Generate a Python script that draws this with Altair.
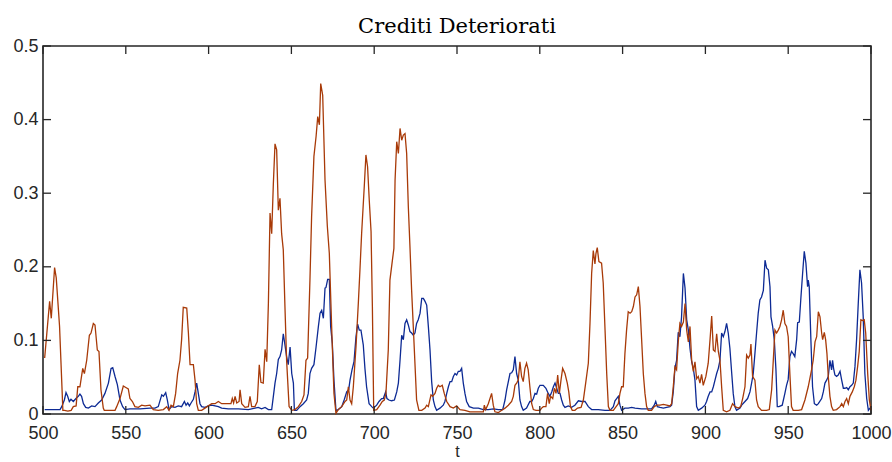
import altair as alt
import pandas as pd

TITLE = "Crediti Deteriorati"
X_LABEL = "t"
X_TICKS = [500, 550, 600, 650, 700, 750, 800, 850, 900, 950, 1000]
Y_TICKS = [0, 0.1, 0.2, 0.3, 0.4, 0.5]

BLUE = [(501,0.006),(505,0.006),(510.3,0.006),(511.3,0.010),(512.9,0.019),(513.9,0.029),(514.9,0.024),(515.9,0.017),(516.9,0.020),(518.3,0.017),(519.9,0.021),(521.3,0.024),(522.3,0.027),(523.3,0.024),(524.4,0.014),(525.8,0.009),(527.4,0.008),(529.4,0.011),(531.4,0.010),(533.4,0.015),(535.4,0.019),(537.4,0.028),(539.5,0.042),(541.1,0.062),(542.1,0.063),(543.5,0.051),(544.9,0.040),(546.5,0.019),(548.1,0.010),(549.5,0.006),(552.5,0.007),(558.6,0.007),(564.6,0.008),(567.6,0.008),(569.6,0.010),(571.7,0.026),(572.7,0.024),(574.1,0.029),(575.1,0.019),(576.1,0.006),(577.7,0.010),(579.7,0.009),(581.7,0.011),(583.7,0.010),(585.4,0.017),(586.4,0.012),(587.4,0.015),(588.4,0.011),(589.4,0.015),(590.8,0.020),(591.8,0.030),(592.8,0.042),(593.8,0.028),(594.8,0.014),(595.8,0.010),(597.8,0.009),(599.8,0.011),(601.9,0.012),(603.9,0.011),(605.9,0.010),(607.9,0.008),(611.9,0.007),(618,0.007),(624,0.006),(628,0.008),(630,0.009),(632,0.007),(634.1,0.009),(636.1,0.006),(638.1,0.006),(639.1,0.024),(640.1,0.042),(641.1,0.055),(642.1,0.074),(643.1,0.078),(644.1,0.087),(645.1,0.109),(646.1,0.094),(647.1,0.078),(648.1,0.067),(649.2,0.091),(650.2,0.055),(651.2,0.042),(651.8,0.005),(653.2,0.005),(655.2,0.010),(657.2,0.014),(659.2,0.019),(660.2,0.028),(661.2,0.055),(662.2,0.062),(663.6,0.067),(664.9,0.091),(666.3,0.119),(667.3,0.137),(668.3,0.141),(669.3,0.130),(670.3,0.171),(670.9,0.172),(671.9,0.183),(672.9,0.183),(673.7,0.119),(674.7,0.096),(675.7,0.046),(676.9,0.005),(678.3,0.006),(680.4,0.010),(682,0.020),(683.4,0.030),(684.6,0.033),(685.4,0.046),(686.6,0.060),(687.8,0.071),(689,0.105),(690,0.122),(691,0.114),(692,0.114),(693.4,0.094),(694.4,0.062),(695.4,0.037),(696.9,0.014),(698.5,0.010),(699.5,0.008),(701.5,0.012),(702.9,0.017),(704.5,0.021),(705.5,0.021),(706.9,0.030),(707.7,0.021),(708.9,0.019),(710.5,0.018),(712.2,0.019),(713.6,0.030),(714.6,0.042),(715.6,0.073),(716.6,0.107),(717.6,0.101),(718.6,0.123),(719.6,0.128),(720.6,0.121),(721.6,0.112),(722.6,0.110),(723.6,0.107),(724.6,0.110),(725.6,0.123),(726.6,0.128),(727.7,0.137),(728.7,0.157),(729.7,0.157),(730.7,0.153),(731.7,0.148),(732.7,0.119),(733.7,0.087),(734.7,0.044),(735.7,0.019),(736.7,0.010),(737.7,0.005),(739.7,0.008),(741.7,0.012),(742.7,0.017),(743.8,0.028),(744.8,0.037),(745.8,0.044),(746.8,0.044),(747.8,0.051),(748.8,0.055),(749.8,0.053),(750.8,0.058),(751.8,0.058),(752.8,0.062),(753.8,0.042),(754.8,0.028),(755.8,0.017),(757.4,0.010),(759.9,0.008),(762.9,0.008),(765.9,0.006),(768.9,0.006),(772,0.007),(775,0.006),(777.6,0.006),(779,0.019),(780,0.033),(781,0.044),(782,0.055),(783,0.056),(784,0.060),(785,0.078),(786,0.055),(787,0.046),(788,0.019),(789,0.010),(790,0.005),(792,0.008),(794,0.017),(795.1,0.017),(796.1,0.021),(797.1,0.028),(798.1,0.027),(799.1,0.035),(800.1,0.039),(802.1,0.039),(803.7,0.035),(805.1,0.028),(806.1,0.024),(807.2,0.030),(808.2,0.037),(809.2,0.042),(810.2,0.035),(811.2,0.028),(812.2,0.028),(813.2,0.019),(814.2,0.012),(815.2,0.009),(817.2,0.011),(819.2,0.009),(821.2,0.012),(823.3,0.018),(825.3,0.017),(827.3,0.017),(829.3,0.010),(831.3,0.006),(835.3,0.006),(839.4,0.005),(842.4,0.005),(844.4,0.010),(845.4,0.018),(846.4,0.021),(847.4,0.024),(848.4,0.012),(849.4,0.005),(851.4,0.008),(853.4,0.008),(855.5,0.009),(857.5,0.008),(861.5,0.007),(867.5,0.007),(869.1,0.012),(870,0.017),(871,0.010),(872.6,0.009),(874.6,0.008),(876.6,0.009),(878.6,0.010),(879.6,0.012),(880.6,0.030),(881.6,0.062),(882.6,0.073),(883.6,0.111),(884.6,0.105),(885.6,0.132),(886.7,0.191),(887.7,0.171),(888.7,0.128),(889.7,0.114),(890.7,0.089),(891.7,0.071),(892.7,0.062),(893.7,0.046),(894.7,0.010),(895.7,0.005),(897.7,0.008),(899.7,0.012),(900.7,0.017),(901.7,0.024),(902.8,0.030),(903.8,0.030),(904.8,0.037),(905.8,0.046),(906.8,0.055),(907.8,0.062),(908.8,0.073),(909.8,0.110),(910.8,0.105),(911.8,0.112),(912.8,0.123),(913.8,0.110),(914.8,0.089),(915.8,0.058),(916.8,0.028),(917.8,0.010),(918.8,0.005),(920.9,0.008),(921.9,0.012),(923.9,0.017),(925.5,0.021),(926.9,0.030),(927.9,0.042),(928.9,0.055),(929.9,0.082),(930.9,0.110),(931.9,0.137),(932.9,0.155),(933.9,0.159),(935,0.168),(936,0.209),(937,0.198),(938,0.196),(939,0.173),(939.6,0.132),(940.6,0.119),(941.6,0.101),(942.6,0.060),(943.4,0.010),(944.4,0.010),(946.4,0.012),(948,0.028),(949,0.039),(950,0.047),(951,0.078),(952,0.085),(953,0.082),(954,0.078),(955.1,0.101),(955.7,0.124),(956.7,0.125),(957.7,0.159),(958.7,0.191),(959.7,0.221),(960.7,0.205),(961.7,0.173),(962.1,0.182),(962.7,0.173),(963.7,0.101),(964.7,0.037),(965.8,0.014),(967.2,0.012),(968.2,0.014),(970.2,0.021),(971.2,0.030),(972.2,0.042),(973.2,0.046),(974.2,0.051),(975.2,0.073),(976.2,0.060),(976.8,0.073),(977.4,0.062),(978.2,0.053),(979.2,0.051),(980.2,0.053),(981.3,0.058),(982.3,0.046),(983.3,0.035),(984.3,0.035),(985.3,0.036),(986.3,0.033),(987.3,0.037),(988.3,0.039),(989.3,0.042),(990.3,0.064),(991.3,0.101),(992.3,0.150),(993.3,0.196),(994.3,0.178),(995.3,0.132),(996.3,0.055),(997.4,0.021),(998.4,0.005),(999.4,0.008),(1000,0.010)]

ORANGE = [(501,0.076),(504,0.153),(505,0.130),(507,0.199),(508,0.185),(510,0.119),(512,0.005),(513,0.005),(515,0.004),(517,0.005),(518.3,0.010),(520,0.011),(521,0.037),(522.3,0.037),(524,0.062),(525,0.055),(526.4,0.073),(528,0.107),(529,0.110),(530.4,0.123),(531.4,0.121),(532.8,0.087),(533.8,0.085),(535,0.033),(536.4,0.008),(537,0.005),(540,0.005),(543.5,0.005),(544.5,0.010),(546.5,0.021),(548.5,0.038),(550,0.036),(551.5,0.034),(552.5,0.021),(554,0.017),(555.5,0.010),(557.6,0.009),(559.6,0.012),(561.6,0.011),(564.6,0.012),(566.6,0.006),(569.6,0.005),(572.7,0.006),(574.7,0.010),(576.1,0.005),(577.3,0.012),(578.7,0.010),(580.1,0.028),(581.3,0.055),(582.7,0.073),(583.7,0.101),(584.7,0.145),(586.8,0.144),(587.8,0.110),(588.8,0.067),(590.8,0.067),(591.8,0.046),(592.8,0.014),(593.8,0.005),(595.8,0.005),(597.8,0.008),(599.8,0.011),(601.9,0.014),(603.9,0.014),(605.9,0.017),(607.9,0.014),(610.9,0.014),(613.5,0.014),(614.3,0.021),(615.1,0.015),(616,0.024),(617,0.015),(618.4,0.017),(619,0.033),(620,0.014),(622,0.009),(624,0.010),(625,0.024),(626,0.010),(628,0.010),(629.4,0.017),(630.6,0.067),(631.6,0.043),(633,0.042),(634.1,0.088),(635.1,0.071),(636.1,0.150),(637.1,0.273),(638.1,0.245),(639.1,0.313),(640.1,0.367),(641.1,0.359),(642.1,0.277),(643.1,0.293),(644.1,0.245),(645.1,0.223),(646.1,0.146),(647.1,0.073),(648.6,0.010),(650.2,0.005),(652.2,0.006),(654.2,0.010),(656.2,0.017),(657.6,0.026),(658.8,0.073),(659.8,0.076),(661.2,0.182),(662.2,0.268),(663.6,0.350),(664.9,0.377),(665.9,0.404),(666.9,0.393),(667.7,0.449),(668.9,0.433),(670.3,0.318),(671.7,0.255),(672.9,0.218),(674.3,0.119),(675.7,0.028),(676.9,0.001),(678.3,0.006),(680.4,0.010),(682.4,0.017),(683.4,0.019),(684.4,0.037),(685.4,0.019),(686.4,0.014),(687.4,0.037),(689,0.091),(690.4,0.150),(691.4,0.196),(692.4,0.245),(694,0.309),(695,0.352),(696,0.336),(697,0.291),(698.1,0.248),(698.9,0.146),(699.7,0.005),(701.5,0.006),(703.5,0.012),(704.9,0.017),(706.1,0.019),(707.1,0.028),(708.5,0.087),(709.5,0.182),(711,0.209),(711.9,0.225),(712.6,0.318),(713.6,0.370),(714.6,0.354),(715.6,0.388),(716.6,0.372),(717.6,0.379),(718.6,0.381),(719.6,0.354),(720.6,0.282),(721.6,0.227),(722.6,0.168),(723.6,0.119),(724.6,0.069),(725.6,0.019),(727,0.005),(728.7,0.005),(730.7,0.008),(731.7,0.012),(732.7,0.010),(734.3,0.026),(735.3,0.024),(736.7,0.028),(737.7,0.035),(738.7,0.039),(739.7,0.037),(741.1,0.039),(742.3,0.028),(743.8,0.017),(745.8,0.010),(747.8,0.008),(749.8,0.011),(751.8,0.006),(754.8,0.005),(757.8,0.003),(761.9,0.003),(765.9,0.003),(766.5,0.012),(767.3,0.006),(768.9,0.014),(770.9,0.028),(771.9,0.012),(772.9,0.003),(775,0.002),(777,0.005),(779,0.008),(781,0.012),(783,0.017),(784,0.024),(785,0.039),(786,0.042),(787,0.046),(788,0.071),(789,0.051),(790,0.044),(791,0.062),(792,0.069),(793,0.060),(794,0.037),(795.1,0.014),(796.1,0.006),(797.7,0.005),(800.1,0.005),(801.1,0.008),(802.1,0.010),(803.7,0.010),(804.7,0.028),(805.7,0.014),(806.5,0.024),(807.8,0.021),(808.8,0.035),(809.8,0.028),(810.8,0.053),(811.8,0.028),(812.8,0.046),(813.8,0.062),(815.2,0.055),(816.6,0.042),(817.5,0.030),(818.5,0.010),(819.6,0.005),(821.2,0.005),(822.8,0.008),(824.9,0.009),(826.3,0.019),(827.7,0.042),(829.3,0.069),(830.3,0.123),(831.3,0.191),(832.3,0.222),(833.3,0.204),(833.9,0.218),(834.7,0.226),(835.7,0.207),(837.3,0.205),(838.3,0.178),(839.4,0.114),(840.4,0.055),(841.4,0.010),(842.4,0.005),(844.4,0.005),(845.4,0.008),(847.4,0.014),(848.4,0.028),(849.4,0.037),(850.4,0.037),(851.4,0.082),(852.4,0.114),(853.4,0.139),(854.5,0.137),(855.5,0.139),(856.5,0.146),(857.5,0.159),(858.5,0.162),(859.5,0.173),(860.5,0.146),(861.5,0.101),(862.5,0.055),(863.5,0.028),(864.5,0.010),(865.5,0.005),(867.5,0.005),(869.1,0.010),(870.6,0.012),(872.6,0.012),(874.6,0.013),(876.6,0.012),(878.6,0.011),(879.6,0.014),(880.6,0.037),(881.6,0.064),(882.6,0.060),(883.6,0.098),(884.6,0.123),(885.6,0.119),(886.7,0.125),(887.7,0.150),(888.7,0.114),(889.7,0.098),(890.7,0.119),(891.7,0.073),(892.7,0.058),(893.7,0.071),(894.7,0.048),(895.7,0.051),(896.7,0.042),(897.7,0.054),(898.7,0.039),(900.3,0.051),(901.7,0.069),(902.8,0.101),(903.8,0.133),(904.8,0.087),(905.8,0.085),(906.8,0.109),(907.8,0.085),(908.8,0.073),(909.8,0.037),(910.8,0.005),(912.8,0.003),(914.8,0.005),(916.4,0.014),(917.9,0.010),(919.9,0.008),(921.3,0.010),(922.5,0.021),(923.9,0.037),(924.9,0.080),(925.9,0.076),(926.9,0.080),(927.5,0.095),(928.5,0.051),(929.9,0.046),(930.9,0.019),(931.9,0.010),(933.9,0.005),(936.9,0.005),(938.6,0.006),(940,0.033),(941,0.073),(942,0.114),(943,0.110),(944,0.114),(945,0.119),(946,0.128),(947,0.141),(948,0.123),(949,0.119),(950,0.105),(951,0.055),(952,0.010),(953,0.005),(956.1,0.005),(958.1,0.006),(960.1,0.019),(962.1,0.037),(964.1,0.060),(965.1,0.073),(966.2,0.098),(967.2,0.105),(968.2,0.139),(969.2,0.132),(970.2,0.110),(970.8,0.101),(971.8,0.111),(972.6,0.101),(973.4,0.082),(974.2,0.051),(975.2,0.024),(976.2,0.010),(977.2,0.005),(979.2,0.006),(981.3,0.010),(982.3,0.014),(983.3,0.010),(984.3,0.017),(985.3,0.021),(986.3,0.014),(987.3,0.024),(988.7,0.030),(989.9,0.037),(990.9,0.046),(991.9,0.064),(992.9,0.085),(993.9,0.128),(994.9,0.127),(995.9,0.128),(996.8,0.110),(998,0.055),(999,0.019),(1000,0.005)]

BLUE_COLOR = "#0d2a94"
ORANGE_COLOR = "#a83a08"
INK = "#262626"
W, H = 828, 368
TICK_LEN = 8

blue_df = pd.DataFrame(BLUE, columns=["t", "v"])
orange_df = pd.DataFrame(ORANGE, columns=["t", "v"])
xt_df = pd.DataFrame({"t": X_TICKS})
yt_df = pd.DataFrame({"v": Y_TICKS})

x_enc = alt.X("t:Q", scale=alt.Scale(domain=[500, 1000], nice=False, zero=False),
              axis=alt.Axis(values=X_TICKS, format="d", title=X_LABEL, labelPadding=10,
                            labelFlush=False, titlePadding=1, titleFontSize=16))
y_enc = alt.Y("v:Q", scale=alt.Scale(domain=[0, 0.5], nice=False),
              axis=alt.Axis(values=Y_TICKS, format="~g", title=None, labelPadding=5,
                            labelFlush=False))

blue = alt.Chart(blue_df).mark_line(color=BLUE_COLOR, strokeWidth=1.3).encode(x=x_enc, y=y_enc)
orange = alt.Chart(orange_df).mark_line(color=ORANGE_COLOR, strokeWidth=1.3).encode(x=x_enc, y=y_enc)

rule = dict(color=INK, strokeWidth=1.3)
tick_left = alt.Chart(yt_df).mark_rule(**rule).encode(y=y_enc, x=alt.value(0), x2=alt.value(TICK_LEN))
tick_right = alt.Chart(yt_df).mark_rule(**rule).encode(y=y_enc, x=alt.value(W - TICK_LEN), x2=alt.value(W))
tick_bottom = alt.Chart(xt_df).mark_rule(**rule).encode(x=x_enc, y=alt.value(H - TICK_LEN), y2=alt.value(H))
tick_top = alt.Chart(xt_df).mark_rule(**rule).encode(x=x_enc, y=alt.value(0), y2=alt.value(TICK_LEN))

chart = alt.layer(blue, orange, tick_left, tick_right, tick_bottom, tick_top).properties(
    width=W, height=H,
    title=alt.TitleParams(TITLE, font="DejaVu Serif", fontSize=21, fontWeight="normal",
                          color="black", anchor="middle", offset=0, baseline="alphabetic",
                          dy=17),
    padding={"left": 43, "top": 46, "right": 21, "bottom": 48},
    autosize=alt.AutoSizeParams(type="none"),
).configure_view(
    stroke=INK, strokeWidth=1.6
).configure_axis(
    grid=False, domain=False, ticks=False,
    labelFont="Liberation Sans", labelFontSize=18, labelColor=INK,
    titleFont="Liberation Sans", titleFontSize=18, titleFontWeight="normal", titleColor=INK,
)

chart.save("out.html", embed_options={"renderer": "svg", "actions": False})
